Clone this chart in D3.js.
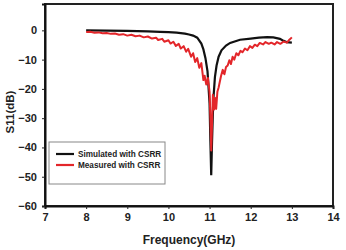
<!DOCTYPE html>
<html>
<head>
<meta charset="utf-8">
<script src="https://cdn.jsdelivr.net/npm/d3@7"></script>
<style>
  body { margin: 0; background: #fff; }
  svg text { font-family: "Liberation Sans", Arial, sans-serif; font-weight: bold; fill: #222; }
</style>
</head>
<body>
<svg id="chart"></svg>
<script>
// simulated S11 (black)
const simFreq = [8.0, 8.5, 9.0, 9.5, 9.8, 10.0, 10.2, 10.4, 10.5, 10.6, 10.7, 10.8, 10.85, 10.9, 10.95, 11.0, 11.02, 11.04, 11.06, 11.09, 11.13, 11.17, 11.22, 11.29, 11.4, 11.5, 11.74, 12.0, 12.2, 12.4, 12.55, 12.71, 12.8, 12.87, 13.0];
const simDb = [0, -0.1, -0.2, -0.35, -0.5, -0.6, -0.8, -1.1, -1.4, -1.8, -2.5, -4.5, -6.5, -9.5, -14, -25, -38, -49.5, -38, -24, -16, -12, -9, -6.8, -5.2, -4.3, -3.2, -2.8, -2.5, -2.3, -2.4, -2.9, -3.6, -4.0, -4.2];

// measured S11 (red)
const measFreq = [8.0, 8.1, 8.2, 8.3, 8.4, 8.5, 8.6, 8.7, 8.8, 8.9, 9.0, 9.1, 9.2, 9.3, 9.4, 9.5, 9.6, 9.7, 9.75, 9.85, 9.9, 10.0, 10.05, 10.12, 10.18, 10.25, 10.3, 10.37, 10.43, 10.48, 10.55, 10.6, 10.65, 10.7, 10.75, 10.8, 10.85, 10.88, 10.92, 10.96, 11.0, 11.02, 11.04, 11.06, 11.08, 11.11, 11.13, 11.16, 11.19, 11.22, 11.25, 11.28, 11.32, 11.36, 11.4, 11.44, 11.48, 11.52, 11.56, 11.6, 11.65, 11.7, 11.75, 11.8, 11.86, 11.92, 11.98, 12.04, 12.1, 12.16, 12.22, 12.3, 12.36, 12.44, 12.5, 12.58, 12.64, 12.72, 12.8, 12.88, 12.94, 13.0];
const measDb = [-0.6, -0.5, -0.8, -0.7, -1.0, -0.9, -1.2, -1.1, -1.5, -1.3, -1.8, -1.5, -2.0, -1.8, -2.4, -2.1, -2.8, -2.5, -3.3, -2.9, -3.9, -3.4, -4.5, -3.9, -5.3, -4.6, -6.2, -5.4, -7.3, -6.3, -9.0, -7.8, -10.8, -9.5, -12.8, -11.2, -17, -15.5, -18.5, -16.3, -21, -30, -41, -32, -22, -27, -23, -26.8, -21, -19.5, -17.5, -15.5, -13.5, -15, -12.5, -12, -10.2, -11.5, -9.0, -10.0, -7.8, -8.5, -7.0, -7.5, -6.2, -6.8, -5.4, -6.0, -4.9, -5.4, -4.3, -4.8, -4.0, -4.6, -4.2, -4.8, -4.0, -4.6, -3.8, -4.2, -3.2, -2.4];

const xTicks = [7, 8, 9, 10, 11, 12, 13, 14];
const yTicks = [0, -10, -20, -30, -40, -50, -60];
const seriesNames = ["Simulated with CSRR", "Measured with CSRR"];
const seriesColors = ["#111111", "#e3262a"];

const WIDTH = 346, HEIGHT = 250;
const M = {left: 45, right: 13, top: 4, bottom: 44};

const svg = d3.select('#chart').attr('width', WIDTH).attr('height', HEIGHT);

const x = d3.scaleLinear().domain([7, 14]).range([M.left, WIDTH - M.right]);
const y = d3.scaleLinear().domain([-60, 9]).range([HEIGHT - M.bottom, M.top]);

// frame
svg.append('rect')
  .attr('x', x(7)).attr('y', y(9))
  .attr('width', x(14) - x(7)).attr('height', y(-60) - y(9))
  .attr('fill', 'none').attr('stroke', '#222').attr('stroke-width', 2);

const xAxis = svg.append('g')
  .attr('transform', `translate(0, ${y(-60)})`)
  .call(d3.axisBottom(x).tickValues(xTicks).tickSize(3).tickPadding(4).tickFormat(d3.format('d')));
xAxis.select('.domain').attr('stroke', '#111').attr('stroke-width', 2);

const yAxis = svg.append('g')
  .attr('transform', `translate(${x(7)}, 0)`)
  .call(d3.axisLeft(y).tickValues(yTicks).tickSize(3).tickPadding(5).tickFormat(d3.format('d')));
yAxis.select('.domain').attr('stroke', '#111').attr('stroke-width', 2);

svg.selectAll('.tick text').attr('font-size', 11).attr('fill', '#222');
svg.selectAll('.tick line').attr('stroke', '#222');

const line = d3.line().x(d => x(d[0])).y(d => y(d[1]));

const measData = measFreq.map((f, i) => [f, measDb[i]]);
const simData = simFreq.map((f, i) => [f, simDb[i]]);

svg.append('path')
  .datum(simData)
  .attr('d', line)
  .attr('fill', 'none')
  .attr('stroke', seriesColors[0])
  .attr('stroke-width', 2.2);

svg.append('path')
  .datum(measData)
  .attr('d', line)
  .attr('fill', 'none')
  .attr('stroke', seriesColors[1])
  .attr('stroke-width', 2)
  .attr('stroke-linejoin', 'round');

// legend
const legend = svg.append('g').attr('transform', 'translate(49, 142)');
legend.append('rect')
  .attr('width', 116).attr('height', 42)
  .attr('fill', '#fff').attr('stroke', '#888').attr('stroke-width', 1);

seriesNames.forEach((name, i) => {
  const ly = 12 + i * 11;
  legend.append('line')
    .attr('x1', 7).attr('x2', 25).attr('y1', ly).attr('y2', ly)
    .attr('stroke', seriesColors[i]).attr('stroke-width', 2.2);
  legend.append('text')
    .attr('x', 29).attr('y', ly).attr('dy', '0.35em')
    .attr('font-size', 8.2).attr('fill', '#333')
    .text(name);
});

// axis titles
svg.append('text')
  .attr('x', 189).attr('y', 244)
  .attr('text-anchor', 'middle').attr('font-size', 12)
  .text('Frequency(GHz)');

svg.append('text')
  .attr('transform', 'translate(14, 112) rotate(-90)')
  .attr('text-anchor', 'middle').attr('font-size', 11.5)
  .text('S11(dB)');
</script>
</body>
</html>
